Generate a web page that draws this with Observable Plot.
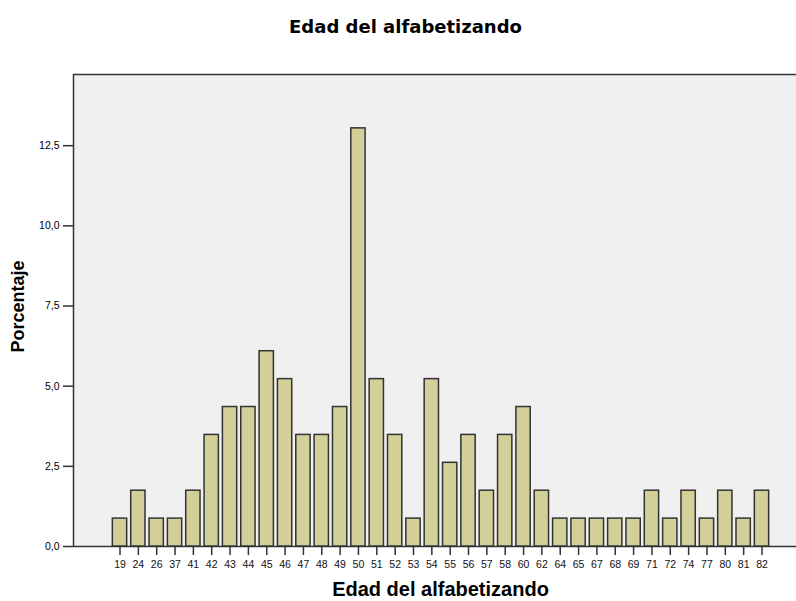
<!DOCTYPE html>
<html>
<head>
<meta charset="utf-8">
<script src="https://cdn.jsdelivr.net/npm/d3@7"></script>
<script src="https://cdn.jsdelivr.net/npm/@observablehq/plot@0.6"></script>
<style>
  html, body { margin: 0; padding: 0; background: #fff; }
  #chart svg { display: block; }
</style>
</head>
<body>
<div id="chart"></div>
<script>
const ages = ["19","24","26","37","41","42","43","44","45","46","47","48","49","50","51","52","53","54","55","56","57","58","60","62","64","65","67","68","69","71","72","74","77","80","81","82"];
const percent = [0.87,1.74,0.87,0.87,1.74,3.48,4.35,4.35,6.09,5.22,3.48,3.48,4.35,13.04,5.22,3.48,0.87,5.22,2.61,3.48,1.74,3.48,4.35,1.74,0.87,0.87,0.87,0.87,0.87,1.74,0.87,1.74,0.87,1.74,0.87,1.74];
const yTicks = [0, 2.5, 5, 7.5, 10, 12.5];
const title = "Edad del alfabetizando";
const xLabel = "Edad del alfabetizando";
const yLabel = "Porcentaje";

const data = ages.map((a, i) => ({age: a, pct: percent[i]}));

const chart = Plot.plot({
  width: 796,
  height: 601,
  marginLeft: 73,
  marginRight: -3,
  marginTop: 74,
  marginBottom: 55,
  style: {fontFamily: "'Liberation Sans', Arial, sans-serif", background: "#fff", overflow: "visible"},
  x: {domain: ages, range: [112.35, 768.65], paddingInner: 0.22, paddingOuter: 0, round: false, label: null},
  y: {domain: [0, 14.72], label: null},
  marks: [
    Plot.frame({fill: "#f0f0f0", stroke: "#333", strokeWidth: 1.5}),
    Plot.barY(data, {x: "age", y: "pct", fill: "#d3cf99", stroke: "#333", strokeWidth: 1.5}),
    Plot.axisX({tickSize: 9, tickPadding: 5, fontSize: 10.5, stroke: "#333", strokeWidth: 1.5, color: "#111", label: null}),
    Plot.axisY({ticks: yTicks, tickSize: 10, tickPadding: 4, fontSize: 10.5, stroke: "#333", strokeWidth: 1.5, tickFormat: d => d.toFixed(1).replace(".", ","), label: null}),
    Plot.text([title], {frameAnchor: "top", dy: -54, dx: -31, fontSize: 18, fontWeight: "bold", fill: "#000", fontFamily: "'DejaVu Sans', Verdana, sans-serif"}),
    Plot.text([xLabel], {frameAnchor: "bottom", dy: 49, dx: 4, fontSize: 20, fontWeight: "bold", fill: "#000"}),
    Plot.text([yLabel], {frameAnchor: "left", dx: -55, dy: -4, rotate: -90, textAnchor: "middle", fontSize: 18, fontWeight: "bold", fill: "#000"})
  ]
});
document.getElementById("chart").appendChild(chart);
</script>
</body>
</html>
